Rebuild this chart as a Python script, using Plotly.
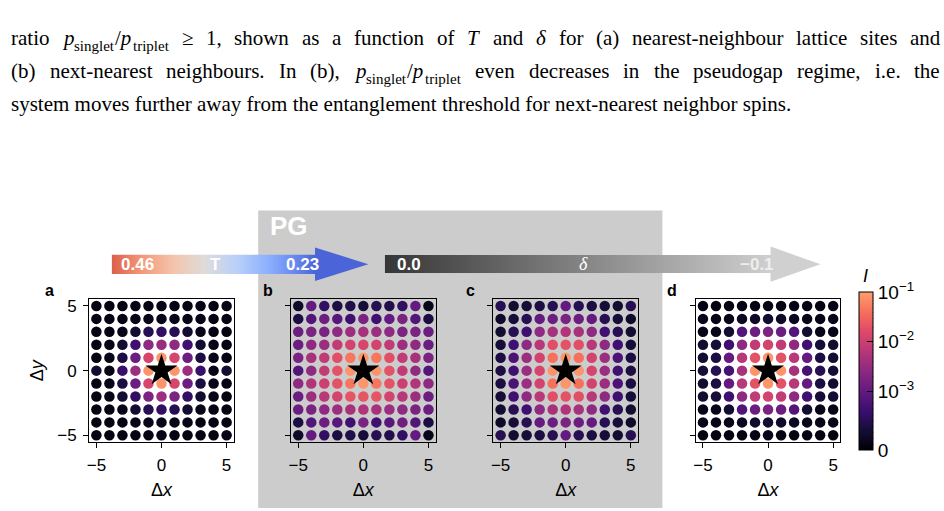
import re
import numpy as np
import plotly.graph_objects as go

W, H = 944, 511
def px(x): return x / W
def py(y): return 1 - y / H

# lattice offsets
dx_vals = list(range(-5, 6))
dy_vals = list(range(5, -6, -1))   # rows from top (dy=5) to bottom (dy=-5)
N = None  # reference site (star)

# mutual information I, in units of 1e-3, rows dy=5..-5, columns dx=-5..5
I_a = [
    [0.1, 0.1, 0.1, 0.1, 0.1, 0.12, 0.1, 0.1, 0.1, 0.1, 0.12],
    [0.1, 0.1, 0.1, 0.12, 0.15, 0.15, 0.15, 0.12, 0.1, 0.1, 0.1],
    [0.1, 0.1, 0.15, 0.3, 0.5, 0.6, 0.5, 0.3, 0.15, 0.1, 0.1],
    [0.1, 0.12, 0.3, 0.7, 2.6, 3.2, 2.6, 0.7, 0.3, 0.12, 0.1],
    [0.1, 0.15, 0.4, 1.2, 13, 83, 13, 1.2, 0.4, 0.15, 0.1],
    [0.3, 0.12, 0.65, 3.5, 83, N, 83, 3.5, 0.65, 0.12, 0.3],
    [0.1, 0.15, 0.4, 1.2, 13, 83, 13, 1.2, 0.4, 0.15, 0.1],
    [0.1, 0.12, 0.3, 0.6, 1.7, 3.5, 1.7, 0.6, 0.3, 0.12, 0.1],
    [0.1, 0.1, 0.15, 0.3, 0.5, 0.6, 0.5, 0.3, 0.15, 0.1, 0.1],
    [0.1, 0.1, 0.1, 0.12, 0.15, 0.15, 0.15, 0.12, 0.1, 0.1, 0.1],
    [0.1, 0.1, 0.1, 0.1, 0.1, 0.12, 0.1, 0.1, 0.1, 0.1, 0.12],
]
I_b = [
    [0.25, 1.0, 0.6, 0.4, 0.45, 0.35, 0.5, 0.45, 0.6, 1.0, 0.15],
    [0.4, 0.85, 1.3, 0.9, 0.7, 1.7, 0.7, 1.0, 1.7, 0.85, 0.4],
    [1.2, 1.7, 1.7, 2.6, 3.5, 4.5, 3.5, 2.6, 1.7, 1.7, 1.2],
    [1.2, 2.6, 3.5, 8, 12, 13, 12, 8, 3.5, 2.6, 1.2],
    [1.7, 4.5, 8, 18, 45, 83, 45, 18, 8, 4.5, 1.7],
    [0.85, 2.6, 8, 20, 83, N, 83, 20, 8, 2.6, 0.85],
    [2.6, 5.5, 10, 20, 45, 83, 45, 20, 10, 5.5, 2.6],
    [1.2, 3.5, 6.5, 12, 21, 21, 21, 12, 6.5, 3.5, 1.2],
    [1.2, 1.7, 2.6, 3.5, 4.5, 5.5, 4.5, 3.5, 2.6, 1.7, 1.2],
    [0.4, 0.85, 1.3, 0.9, 0.7, 1.7, 0.7, 0.9, 1.3, 0.85, 0.4],
    [0.25, 1.0, 0.6, 0.4, 0.45, 0.35, 0.5, 0.45, 0.6, 1.0, 0.15],
]
I_c = [
    [0.5, 0.3, 0.35, 0.4, 0.5, 1.0, 0.5, 0.4, 0.35, 0.3, 0.5],
    [0.25, 0.35, 0.5, 1.0, 1.2, 1.7, 1.2, 1.0, 0.5, 0.35, 0.25],
    [0.3, 0.5, 0.7, 2.6, 4.5, 5.5, 4.5, 2.6, 0.7, 0.5, 0.3],
    [0.35, 0.7, 2.6, 6.5, 18, 20, 18, 6.5, 2.6, 0.7, 0.35],
    [0.4, 0.8, 3.5, 12, 40, 83, 40, 12, 3.5, 0.8, 0.4],
    [0.4, 0.7, 3.5, 13, 83, N, 83, 13, 3.5, 0.7, 0.4],
    [0.4, 0.8, 3.5, 12, 40, 83, 40, 12, 3.5, 0.8, 0.4],
    [0.35, 0.7, 2.6, 6.5, 18, 20, 18, 6.5, 2.6, 0.7, 0.35],
    [0.3, 0.5, 0.7, 2.6, 4.5, 5.5, 4.5, 2.6, 0.7, 0.5, 0.3],
    [0.25, 0.35, 0.5, 1.0, 1.2, 1.7, 1.2, 1.0, 0.5, 0.35, 0.25],
    [0.5, 0.3, 0.35, 0.4, 0.5, 1.0, 0.5, 0.4, 0.35, 0.3, 0.5],
]
I_d = [
    [0.1, 0.1, 0.1, 0.1, 0.1, 0.12, 0.1, 0.1, 0.1, 0.1, 0.1],
    [0.15, 0.12, 0.15, 0.2, 0.25, 0.3, 0.25, 0.2, 0.15, 0.12, 0.15],
    [0.12, 0.15, 0.3, 0.85, 1.2, 1.7, 1.2, 0.85, 0.3, 0.15, 0.12],
    [0.3, 0.35, 0.7, 2.6, 8, 12, 8, 2.6, 0.7, 0.35, 0.3],
    [0.3, 0.4, 1.0, 6.5, 20, 83, 20, 6.5, 1.0, 0.4, 0.3],
    [0.35, 0.5, 0.75, 4.5, 83, N, 83, 4.5, 0.75, 0.5, 0.35],
    [0.3, 0.4, 1.0, 6.5, 20, 83, 20, 6.5, 1.0, 0.4, 0.3],
    [0.3, 0.35, 0.7, 2.6, 8, 12, 8, 2.6, 0.7, 0.35, 0.3],
    [0.12, 0.15, 0.3, 0.85, 1.2, 1.7, 1.2, 0.85, 0.3, 0.15, 0.12],
    [0.15, 0.12, 0.15, 0.2, 0.25, 0.3, 0.25, 0.2, 0.15, 0.12, 0.15],
    [0.1, 0.1, 0.1, 0.1, 0.1, 0.12, 0.1, 0.1, 0.1, 0.1, 0.1],
]
panel_labels = ["a", "b", "c", "d"]
panel_data = [I_a, I_b, I_c, I_d]

cbar_major = [0, 1e-3, 1e-2, 1e-1]
cbar_major_text = ["0", "10<sup>−3</sup>", "10<sup>−2</sup>", "10<sup>−1</sup>"]
cbar_minor = [k * 1e-4 for k in range(1, 10)] + [k * 1e-3 for k in range(2, 10)] + [k * 1e-2 for k in range(2, 10)]

T_labels = ["0.46", "T", "0.23"]
delta_labels = ["0.0", "δ", "−0.1"]

# caption text; "_" marks a subscript segment
TS = 21          # caption font size
SUB = 15         # subscript font size
PS = ["<i>p</i>", "_singlet", "/<i>p</i>", "_triplet"]
line2_words = ["ratio", PS, "≥", "1,", "shown", "as", "a", "function", "of", "<i>T</i>", "and",
               "<i>δ</i>", "for", "(a)", "nearest-neighbour", "lattice", "sites", "and"]
line3_words = ["(b)", "next-nearest", "neighbours.", "In", "(b),", PS, "even", "decreases", "in",
               "the", "pseudogap", "regime,", "i.e.", "the"]
line4_text = "system moves further away from the entanglement threshold for next-nearest neighbor spins."

# approximate Times glyph advance widths (per 1000 em) for text justification
TW = dict(zip("abcdefghijklmnopqrstuvwxyz", [444, 500, 444, 500, 444, 333, 500, 500, 278, 278, 500, 278, 778,
                                               500, 500, 500, 500, 333, 389, 278, 500, 500, 722, 500, 500, 444]))
TW.update({"(": 333, ")": 333, ",": 250, ".": 250, "-": 333, "/": 278, "1": 500, "I": 333, "T": 611,
           "≥": 549, "δ": 500, " ": 250})
SEG_PAD = 1.5   # small kerning gap between math pieces

def segments(word):
    segs = word if isinstance(word, list) else [word]
    out = []
    for s in segs:
        if s.startswith("_"):
            out.append((s[1:], SUB, 5))
        else:
            out.append((s, TS, 0))
    return out

def seg_width(text, size):
    plain = re.sub(r"<[^>]+>", "", text)
    return sum(TW.get(ch, 500) for ch in plain) * size / 1000.0

def word_width(word):
    segs = segments(word)
    return sum(seg_width(t, s) for t, s, _ in segs) + SEG_PAD * (len(segs) - 1)

def justify(words, x0, x1):
    widths = [word_width(w) for w in words]
    gap = (x1 - x0 - sum(widths)) / (len(words) - 1)
    xs, x = [], x0
    for w in widths:
        xs.append(x)
        x += w + gap
    return xs

# symlog colour normalisation (linear below 1e-3)
LINTHRESH, LINSCALE, VMAX = 1e-3, 1.2, 1e-1
DEC = np.log10(VMAX / LINTHRESH)
def norm(v):
    v = np.asarray(v, dtype=float)
    lin = LINSCALE * np.minimum(v, LINTHRESH) / LINTHRESH
    lg = np.log10(np.maximum(v, LINTHRESH) / LINTHRESH)
    return (lin + lg) / (LINSCALE + DEC)

MAGMA = [[0.0, "#000004"], [0.125, "#140e36"], [0.25, "#3b0f70"], [0.375, "#641a80"],
         [0.5, "#8c2981"], [0.625, "#b73779"], [0.75, "#de4968"], [0.875, "#f7705c"],
         [1.0, "#fe9f6d"]]

FONT = "Liberation Sans, Arial, sans-serif"
SERIF = "Liberation Serif, DejaVu Serif, serif"

fig = go.Figure()

lefts = [86.5, 289, 492, 695]
pw = 145
ptop, pbot = 300, 444

CB_L, CB_R, CB_T, CB_B = 859, 873, 293.3, 452.7

for i, (lab, grid) in enumerate(zip(panel_labels, panel_data)):
    xs, ys, vs = [], [], []
    for r, dy in enumerate(dy_vals):
        for c, dxv in enumerate(dx_vals):
            v = grid[r][c]
            if v is None:
                continue
            xs.append(dxv); ys.append(dy); vs.append(v * 1e-3)
    ax = "" if i == 0 else str(i + 1)
    mk = dict(color=norm(vs), colorscale=MAGMA, cmin=0, cmax=1, size=10.5, line=dict(width=0))
    if i == 0:
        mk["showscale"] = True
        mk["colorbar"] = dict(
            x=px(CB_L), xanchor="left", y=py(CB_B), yanchor="bottom",
            len=(CB_B - CB_T) / H, lenmode="fraction", thickness=CB_R - CB_L, thicknessmode="pixels",
            xpad=0, ypad=0, outlinewidth=1, outlinecolor="black",
            tickvals=list(norm(cbar_major)), ticktext=cbar_major_text,
            ticks="inside", ticklen=6, tickwidth=1, tickcolor="black",
            tickfont=dict(family=FONT, size=19, color="black"),
        )
    fig.add_trace(go.Scatter(x=xs, y=ys, mode="markers", marker=mk,
                             xaxis="x" + ax, yaxis="y" + ax, showlegend=False, hoverinfo="skip"))
    fig.add_trace(go.Scatter(x=[0], y=[0], mode="markers",
                             marker=dict(symbol="star", size=24, color="black", line=dict(width=0)),
                             xaxis="x" + ax, yaxis="y" + ax, showlegend=False, hoverinfo="skip"))

    axcommon = dict(showline=True, mirror=True, linecolor="black", linewidth=1.3,
                    ticks="outside", ticklen=5, tickwidth=1.3, tickcolor="black",
                    showgrid=False, zeroline=False, tickvals=[-5, 0, 5], fixedrange=True,
                    ticklabelstandoff=3,
                    tickfont=dict(family=FONT, size=17, color="black"))
    xkey = "xaxis" if i == 0 else f"xaxis{i+1}"
    ykey = "yaxis" if i == 0 else f"yaxis{i+1}"
    fig.layout[xkey] = dict(axcommon, domain=[px(lefts[i]), px(lefts[i] + pw)], range=[-5.55, 5.55],
                            anchor="y" + ax,
                            title=dict(text="Δ<i>x</i>", standoff=9, font=dict(family=FONT, size=18, color="black")))
    ydict = dict(axcommon, domain=[py(pbot), py(ptop)], range=[-5.5, 5.5], anchor="x" + ax)
    if i == 0:
        ydict["title"] = dict(text="Δ<i>y</i>", standoff=8, font=dict(family=FONT, size=18, color="black"))
    else:
        ydict["showticklabels"] = False
    fig.layout[ykey] = ydict

# gradient bars (decorative) on hidden overlay axes
grad = np.linspace(0, 1, 256)
COOLWARM_R = [[0.0, "#dd604c"], [0.153, "#f49a7b"], [0.307, "#f4c5ad"], [0.46, "#dddcdc"],
              [0.613, "#b9d0f9"], [0.767, "#8db0fe"], [0.92, "#6282ea"], [1.0, "#4b64d8"]]
GRAYS = [[0.0, "#363636"], [1.0, "#cfcfcf"]]
fig.add_trace(go.Heatmap(z=[grad], x=grad, colorscale=COOLWARM_R, showscale=False,
                         xaxis="x5", yaxis="y5", hoverinfo="skip"))
fig.add_trace(go.Heatmap(z=[grad], x=grad, colorscale=GRAYS, showscale=False,
                         xaxis="x6", yaxis="y6", hoverinfo="skip"))
fig.layout["xaxis5"] = dict(domain=[px(109), px(314)], visible=False, anchor="y5", fixedrange=True)
fig.layout["yaxis5"] = dict(domain=[py(274.3), py(254.5)], visible=False, anchor="x5", fixedrange=True)
fig.layout["xaxis6"] = dict(domain=[px(383), px(771)], visible=False, anchor="y6", fixedrange=True)
fig.layout["yaxis6"] = dict(domain=[py(273.5), py(255)], visible=False, anchor="x6", fixedrange=True)

shapes = [
    dict(type="rect", xref="paper", yref="paper", x0=px(256), x1=px(661.5), y0=py(511), y1=py(210),
         fillcolor="#cccccc", line=dict(width=0), layer="below"),
    dict(type="path", xref="paper", yref="paper",
         path=f"M {px(313)},{py(247.3)} L {px(366.5)},{py(264.3)} L {px(313)},{py(281.3)} Z",
         fillcolor="#4b64d8", line=dict(width=0), layer="above"),
    dict(type="path", xref="paper", yref="paper",
         path=f"M {px(770)},{py(246.5)} L {px(820)},{py(264.3)} L {px(770)},{py(282)} Z",
         fillcolor="#d0d0d0", line=dict(width=0), layer="above"),
]
# minor colorbar ticks
for v in norm(cbar_minor):
    yy = CB_B - v * (CB_B - CB_T)
    shapes.append(dict(type="line", xref="paper", yref="paper", x0=px(CB_R - 3.5), x1=px(CB_R),
                       y0=py(yy), y1=py(yy), line=dict(color="black", width=1), layer="above"))

ann = []
def A(text, x, y, size, color="black", family=FONT, xanchor="center", yanchor="middle", **kw):
    ann.append(dict(text=text, x=px(x), y=py(y), xref="paper", yref="paper", showarrow=False,
                    xanchor=xanchor, yanchor=yanchor, font=dict(family=family, size=size, color=color), **kw))

A("<b>PG</b>", 266, 226, 26, color="white", xanchor="left")
A("<b>" + T_labels[0] + "</b>", 134.5, 264.5, 17, color="white")
A("<b>" + T_labels[1] + "</b>", 213, 264.5, 17, color="white")
A("<b>" + T_labels[2] + "</b>", 300, 264.5, 17, color="white")
A("<b>" + delta_labels[0] + "</b>", 407, 264.5, 17, color="white")
A("<i>" + delta_labels[1] + "</i>", 582, 264.5, 18, color="white", family=SERIF)
A("<b>" + delta_labels[2] + "</b>", 756, 264.5, 17, color="#eeeeee")
for lab, xl in zip(panel_labels, [47, 266, 468.5, 671.5]):
    A("<b>" + lab + "</b>", xl, 291, 16)
A("<i>I</i>", 865, 276, 18)

# caption lines
for words, yy in ((line2_words, 46), (line3_words, 79)):
    xs_w = justify(words, 8, 940)
    for w, xw in zip(words, xs_w):
        x = xw
        for t, sz, dy in segments(w):
            A(t, x, yy + dy, sz, family=SERIF, xanchor="left", yanchor="bottom",
              xshift=-2, yshift=-4 if sz == TS else -3)
            x += seg_width(t, sz) + SEG_PAD
A(line4_text, 8, 112, TS, family=SERIF, xanchor="left", yanchor="bottom", xshift=-2, yshift=-4)

fig.update_layout(width=W, height=H, margin=dict(l=0, r=0, t=0, b=0),
                  paper_bgcolor="white", plot_bgcolor="white",
                  shapes=shapes, annotations=ann, showlegend=False,
                  font=dict(family=FONT, color="black"))

fig.write_html("out.html")
